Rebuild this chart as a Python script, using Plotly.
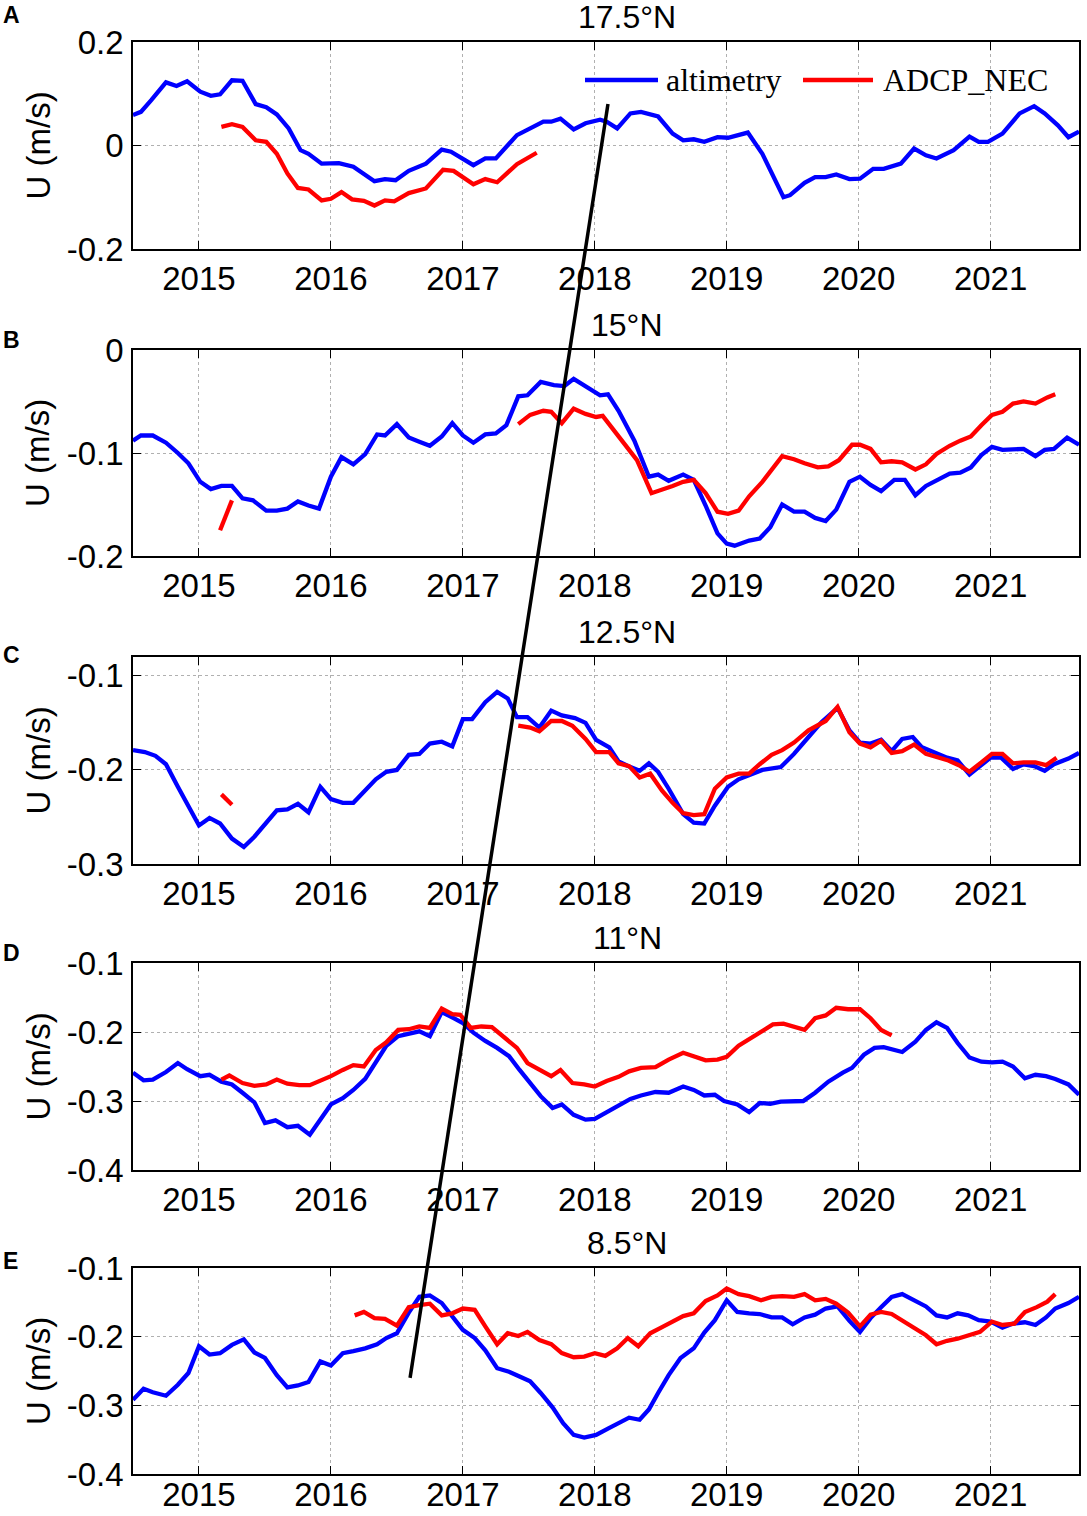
import plotly.graph_objects as go

# ---------------- data (decimal year, U in m/s) ----------------
YEAR_TICKS = [2015, 2016, 2017, 2018, 2019, 2020, 2021]
YEAR_LABELS = ["2015", "2016", "2017", "2018", "2019", "2020", "2021"]
X_RANGE = [2014.5, 2021.67]

A_ALT = [(2014.50, 0.059), (2014.56, 0.065), (2014.64, 0.088), (2014.75, 0.122), (2014.83, 0.115),
         (2014.91, 0.124), (2015.01, 0.104), (2015.09, 0.096), (2015.16, 0.099), (2015.25, 0.126),
         (2015.33, 0.125), (2015.43, 0.080), (2015.51, 0.074), (2015.59, 0.060), (2015.68, 0.033),
         (2015.77, -0.009), (2015.83, -0.016), (2015.93, -0.035), (2016.06, -0.034), (2016.17, -0.041),
         (2016.33, -0.069), (2016.41, -0.065), (2016.49, -0.067), (2016.59, -0.049), (2016.72, -0.035),
         (2016.84, -0.008), (2016.91, -0.012), (2017.08, -0.038), (2017.17, -0.025), (2017.25, -0.025),
         (2017.41, 0.020), (2017.51, 0.034), (2017.61, 0.046), (2017.67, 0.046), (2017.74, 0.052),
         (2017.84, 0.031), (2017.93, 0.043), (2018.04, 0.050), (2018.09, 0.046), (2018.17, 0.033),
         (2018.27, 0.062), (2018.35, 0.065), (2018.48, 0.056), (2018.59, 0.023), (2018.67, 0.010),
         (2018.75, 0.012), (2018.83, 0.007), (2018.93, 0.016), (2019.01, 0.015), (2019.16, 0.025),
         (2019.27, -0.016), (2019.43, -0.100), (2019.48, -0.096), (2019.59, -0.072), (2019.67, -0.061),
         (2019.75, -0.061), (2019.83, -0.056), (2019.93, -0.065), (2020.01, -0.064), (2020.11, -0.045),
         (2020.19, -0.045), (2020.32, -0.035), (2020.42, -0.006), (2020.51, -0.019), (2020.59, -0.025),
         (2020.72, -0.009), (2020.84, 0.017), (2020.91, 0.007), (2020.98, 0.007), (2021.09, 0.023),
         (2021.22, 0.062), (2021.33, 0.076), (2021.41, 0.062), (2021.51, 0.039), (2021.59, 0.016),
         (2021.67, 0.027)]
A_ADCP = [[(2015.17, 0.036), (2015.25, 0.041), (2015.33, 0.036), (2015.43, 0.010), (2015.51, 0.007),
           (2015.59, -0.016), (2015.67, -0.054), (2015.75, -0.082), (2015.83, -0.085), (2015.93, -0.106),
           (2016.00, -0.103), (2016.08, -0.090), (2016.16, -0.104), (2016.25, -0.107), (2016.33, -0.116),
           (2016.41, -0.106), (2016.48, -0.108), (2016.59, -0.092), (2016.72, -0.083), (2016.85, -0.047),
           (2016.93, -0.049), (2017.08, -0.075), (2017.17, -0.065), (2017.26, -0.071), (2017.41, -0.036),
           (2017.49, -0.025), (2017.56, -0.014)]]

B_ALT = [(2014.50, -0.088), (2014.56, -0.083), (2014.65, -0.083), (2014.75, -0.090), (2014.84, -0.100),
         (2014.92, -0.110), (2015.01, -0.128), (2015.09, -0.135), (2015.17, -0.132), (2015.25, -0.132),
         (2015.33, -0.144), (2015.41, -0.146), (2015.51, -0.156), (2015.59, -0.156), (2015.67, -0.154),
         (2015.75, -0.147), (2015.83, -0.151), (2015.91, -0.154), (2016.00, -0.123), (2016.08, -0.104),
         (2016.17, -0.111), (2016.26, -0.101), (2016.35, -0.082), (2016.41, -0.083), (2016.50, -0.072),
         (2016.59, -0.085), (2016.67, -0.089), (2016.75, -0.093), (2016.84, -0.084), (2016.92, -0.071),
         (2017.00, -0.083), (2017.08, -0.090), (2017.17, -0.082), (2017.25, -0.081), (2017.33, -0.073),
         (2017.42, -0.045), (2017.49, -0.044), (2017.59, -0.031), (2017.69, -0.034), (2017.77, -0.035),
         (2017.84, -0.028), (2017.95, -0.037), (2018.04, -0.044), (2018.10, -0.043), (2018.18, -0.059),
         (2018.30, -0.088), (2018.41, -0.123), (2018.48, -0.121), (2018.56, -0.127), (2018.67, -0.121),
         (2018.75, -0.126), (2018.84, -0.151), (2018.93, -0.178), (2019.00, -0.188), (2019.06, -0.190),
         (2019.17, -0.185), (2019.25, -0.183), (2019.33, -0.172), (2019.42, -0.150), (2019.51, -0.157),
         (2019.59, -0.157), (2019.67, -0.163), (2019.75, -0.166), (2019.83, -0.155), (2019.93, -0.128),
         (2020.01, -0.123), (2020.09, -0.131), (2020.17, -0.137), (2020.27, -0.126), (2020.35, -0.126),
         (2020.43, -0.141), (2020.51, -0.132), (2020.62, -0.125), (2020.69, -0.120), (2020.77, -0.119),
         (2020.85, -0.114), (2020.93, -0.102), (2021.01, -0.094), (2021.09, -0.097), (2021.17, -0.097),
         (2021.25, -0.096), (2021.34, -0.103), (2021.41, -0.097), (2021.48, -0.096), (2021.58, -0.085),
         (2021.67, -0.092)]
B_ADCP = [[(2015.16, -0.175), (2015.25, -0.146)],
          [(2017.42, -0.072), (2017.51, -0.063), (2017.61, -0.059), (2017.67, -0.060), (2017.75, -0.071),
           (2017.84, -0.057), (2017.93, -0.062), (2018.01, -0.065), (2018.06, -0.064), (2018.14, -0.077),
           (2018.22, -0.091), (2018.32, -0.107), (2018.43, -0.139), (2018.51, -0.136), (2018.59, -0.132),
           (2018.67, -0.128), (2018.75, -0.126), (2018.84, -0.139), (2018.93, -0.157), (2019.01, -0.159),
           (2019.09, -0.156), (2019.17, -0.142), (2019.27, -0.128), (2019.42, -0.103), (2019.51, -0.106),
           (2019.59, -0.110), (2019.69, -0.114), (2019.77, -0.113), (2019.85, -0.107), (2019.95, -0.092),
           (2020.01, -0.092), (2020.09, -0.096), (2020.17, -0.109), (2020.25, -0.108), (2020.33, -0.109),
           (2020.43, -0.116), (2020.51, -0.111), (2020.59, -0.101), (2020.69, -0.093), (2020.77, -0.088),
           (2020.85, -0.084), (2020.93, -0.073), (2021.01, -0.063), (2021.09, -0.060), (2021.17, -0.052),
           (2021.25, -0.050), (2021.34, -0.052), (2021.43, -0.046), (2021.49, -0.043)]]

C_ALT = [(2014.50, -0.179), (2014.59, -0.181), (2014.67, -0.185), (2014.75, -0.194), (2014.84, -0.218),
         (2014.92, -0.239), (2015.00, -0.259), (2015.08, -0.251), (2015.16, -0.257), (2015.25, -0.273),
         (2015.34, -0.282), (2015.42, -0.271), (2015.51, -0.256), (2015.59, -0.243), (2015.67, -0.242),
         (2015.75, -0.236), (2015.83, -0.245), (2015.92, -0.218), (2016.00, -0.231), (2016.09, -0.235),
         (2016.17, -0.235), (2016.26, -0.222), (2016.34, -0.210), (2016.42, -0.202), (2016.50, -0.200),
         (2016.59, -0.184), (2016.67, -0.183), (2016.75, -0.172), (2016.84, -0.170), (2016.92, -0.175),
         (2017.00, -0.146), (2017.07, -0.146), (2017.17, -0.128), (2017.26, -0.117), (2017.34, -0.124),
         (2017.41, -0.144), (2017.49, -0.144), (2017.58, -0.155), (2017.67, -0.137), (2017.75, -0.142),
         (2017.85, -0.145), (2017.93, -0.150), (2018.01, -0.168), (2018.11, -0.176), (2018.18, -0.191),
         (2018.27, -0.197), (2018.34, -0.201), (2018.41, -0.193), (2018.48, -0.202), (2018.56, -0.220),
         (2018.67, -0.247), (2018.75, -0.256), (2018.83, -0.257), (2018.91, -0.238), (2019.01, -0.218),
         (2019.09, -0.210), (2019.17, -0.206), (2019.27, -0.200), (2019.41, -0.197), (2019.51, -0.183),
         (2019.62, -0.165), (2019.72, -0.149), (2019.84, -0.134), (2019.93, -0.158), (2020.01, -0.171),
         (2020.09, -0.172), (2020.17, -0.168), (2020.25, -0.180), (2020.33, -0.167), (2020.41, -0.165),
         (2020.48, -0.176), (2020.59, -0.182), (2020.67, -0.187), (2020.75, -0.190), (2020.84, -0.205),
         (2020.91, -0.197), (2021.00, -0.187), (2021.08, -0.187), (2021.17, -0.199), (2021.25, -0.194),
         (2021.33, -0.196), (2021.41, -0.201), (2021.48, -0.194), (2021.59, -0.188), (2021.67, -0.182)]
C_ADCP = [[(2015.17, -0.226), (2015.25, -0.237)],
          [(2017.42, -0.153), (2017.51, -0.155), (2017.58, -0.159), (2017.67, -0.148), (2017.75, -0.148),
           (2017.83, -0.153), (2017.93, -0.167), (2018.01, -0.181), (2018.11, -0.181), (2018.18, -0.193),
           (2018.26, -0.196), (2018.34, -0.208), (2018.42, -0.204), (2018.51, -0.222), (2018.59, -0.235),
           (2018.67, -0.246), (2018.75, -0.248), (2018.83, -0.247), (2018.91, -0.220), (2019.00, -0.208),
           (2019.09, -0.204), (2019.17, -0.204), (2019.25, -0.194), (2019.34, -0.184), (2019.42, -0.179),
           (2019.51, -0.171), (2019.62, -0.158), (2019.75, -0.148), (2019.84, -0.133), (2019.93, -0.160),
           (2020.01, -0.172), (2020.09, -0.176), (2020.17, -0.169), (2020.25, -0.182), (2020.33, -0.180),
           (2020.42, -0.173), (2020.51, -0.183), (2020.59, -0.186), (2020.68, -0.190), (2020.76, -0.195),
           (2020.84, -0.202), (2020.93, -0.192), (2021.01, -0.183), (2021.09, -0.183), (2021.17, -0.193),
           (2021.25, -0.192), (2021.34, -0.192), (2021.42, -0.195), (2021.50, -0.187)]]

D_ALT = [(2014.50, -0.259), (2014.58, -0.270), (2014.65, -0.269), (2014.75, -0.258), (2014.84, -0.245),
         (2014.91, -0.254), (2015.01, -0.264), (2015.08, -0.262), (2015.17, -0.272), (2015.25, -0.276),
         (2015.33, -0.288), (2015.42, -0.302), (2015.50, -0.332), (2015.58, -0.328), (2015.67, -0.338),
         (2015.75, -0.336), (2015.84, -0.349), (2015.92, -0.327), (2016.00, -0.305), (2016.09, -0.296),
         (2016.17, -0.284), (2016.26, -0.268), (2016.35, -0.240), (2016.42, -0.220), (2016.51, -0.206),
         (2016.59, -0.203), (2016.67, -0.199), (2016.75, -0.206), (2016.84, -0.171), (2016.93, -0.180),
         (2017.00, -0.187), (2017.08, -0.201), (2017.17, -0.213), (2017.26, -0.223), (2017.35, -0.235),
         (2017.43, -0.255), (2017.51, -0.274), (2017.59, -0.293), (2017.68, -0.310), (2017.75, -0.305),
         (2017.84, -0.320), (2017.93, -0.327), (2018.00, -0.326), (2018.09, -0.316), (2018.18, -0.306),
         (2018.27, -0.297), (2018.35, -0.292), (2018.46, -0.287), (2018.56, -0.288), (2018.67, -0.279),
         (2018.75, -0.284), (2018.83, -0.292), (2018.91, -0.291), (2018.98, -0.300), (2019.08, -0.305),
         (2019.17, -0.316), (2019.25, -0.303), (2019.33, -0.304), (2019.41, -0.301), (2019.48, -0.300),
         (2019.58, -0.300), (2019.67, -0.288), (2019.77, -0.272), (2019.88, -0.259), (2019.95, -0.252),
         (2020.04, -0.233), (2020.12, -0.223), (2020.19, -0.222), (2020.27, -0.226), (2020.33, -0.229),
         (2020.43, -0.214), (2020.51, -0.197), (2020.59, -0.186), (2020.67, -0.194), (2020.75, -0.216),
         (2020.84, -0.237), (2020.93, -0.243), (2021.01, -0.244), (2021.09, -0.243), (2021.17, -0.250),
         (2021.26, -0.267), (2021.34, -0.262), (2021.42, -0.264), (2021.49, -0.268), (2021.59, -0.276),
         (2021.67, -0.291)]
D_ADCP = [[(2015.17, -0.269), (2015.23, -0.263), (2015.33, -0.274), (2015.42, -0.278), (2015.51, -0.276),
           (2015.59, -0.269), (2015.67, -0.275), (2015.76, -0.277), (2015.84, -0.277), (2015.92, -0.271),
           (2016.00, -0.264), (2016.09, -0.255), (2016.17, -0.248), (2016.25, -0.250), (2016.34, -0.226),
           (2016.42, -0.215), (2016.51, -0.197), (2016.59, -0.196), (2016.67, -0.192), (2016.75, -0.194),
           (2016.84, -0.166), (2016.92, -0.174), (2016.98, -0.175), (2017.06, -0.194), (2017.14, -0.192),
           (2017.22, -0.193), (2017.32, -0.209), (2017.41, -0.223), (2017.49, -0.245), (2017.58, -0.254),
           (2017.67, -0.264), (2017.74, -0.255), (2017.83, -0.274), (2017.92, -0.276), (2018.00, -0.279),
           (2018.09, -0.271), (2018.18, -0.265), (2018.26, -0.257), (2018.35, -0.252), (2018.46, -0.251),
           (2018.56, -0.240), (2018.67, -0.230), (2018.75, -0.235), (2018.84, -0.241), (2018.93, -0.240),
           (2019.00, -0.236), (2019.09, -0.220), (2019.18, -0.209), (2019.27, -0.197), (2019.35, -0.189),
           (2019.43, -0.188), (2019.51, -0.192), (2019.59, -0.197), (2019.67, -0.180), (2019.75, -0.176),
           (2019.83, -0.165), (2019.92, -0.167), (2020.01, -0.167), (2020.09, -0.180), (2020.17, -0.197),
           (2020.25, -0.205)]]

E_ALT = [(2014.50, -0.292), (2014.58, -0.276), (2014.65, -0.281), (2014.75, -0.286), (2014.84, -0.270),
         (2014.92, -0.253), (2015.00, -0.214), (2015.08, -0.226), (2015.16, -0.224), (2015.25, -0.212),
         (2015.34, -0.204), (2015.42, -0.223), (2015.50, -0.231), (2015.59, -0.256), (2015.67, -0.274),
         (2015.75, -0.271), (2015.83, -0.266), (2015.92, -0.236), (2016.00, -0.242), (2016.09, -0.224),
         (2016.17, -0.221), (2016.26, -0.217), (2016.35, -0.211), (2016.42, -0.202), (2016.50, -0.195),
         (2016.59, -0.165), (2016.67, -0.142), (2016.75, -0.140), (2016.84, -0.151), (2016.92, -0.171),
         (2017.00, -0.190), (2017.09, -0.202), (2017.17, -0.220), (2017.26, -0.246), (2017.35, -0.251),
         (2017.43, -0.258), (2017.51, -0.265), (2017.59, -0.282), (2017.68, -0.303), (2017.76, -0.326),
         (2017.84, -0.343), (2017.92, -0.347), (2018.01, -0.343), (2018.10, -0.334), (2018.18, -0.326),
         (2018.26, -0.318), (2018.34, -0.321), (2018.41, -0.306), (2018.48, -0.282), (2018.56, -0.256),
         (2018.65, -0.231), (2018.75, -0.217), (2018.83, -0.194), (2018.91, -0.176), (2019.00, -0.147),
         (2019.08, -0.164), (2019.17, -0.166), (2019.25, -0.167), (2019.34, -0.172), (2019.42, -0.172),
         (2019.50, -0.182), (2019.59, -0.172), (2019.67, -0.168), (2019.75, -0.159), (2019.84, -0.156),
         (2019.93, -0.177), (2020.01, -0.193), (2020.09, -0.173), (2020.17, -0.157), (2020.25, -0.142),
         (2020.33, -0.138), (2020.42, -0.147), (2020.51, -0.156), (2020.59, -0.169), (2020.67, -0.172),
         (2020.75, -0.166), (2020.83, -0.169), (2020.91, -0.176), (2021.00, -0.178), (2021.09, -0.187),
         (2021.17, -0.181), (2021.26, -0.179), (2021.34, -0.183), (2021.42, -0.172), (2021.49, -0.159),
         (2021.59, -0.151), (2021.67, -0.142)]
E_ADCP = [[(2016.18, -0.169), (2016.25, -0.164), (2016.33, -0.173), (2016.41, -0.174), (2016.50, -0.184),
           (2016.59, -0.157), (2016.67, -0.154), (2016.75, -0.152), (2016.84, -0.169), (2016.92, -0.166),
           (2017.00, -0.159), (2017.09, -0.161), (2017.17, -0.185), (2017.26, -0.211), (2017.34, -0.195),
           (2017.42, -0.199), (2017.49, -0.193), (2017.58, -0.205), (2017.67, -0.211), (2017.75, -0.224),
           (2017.84, -0.230), (2017.92, -0.229), (2018.00, -0.224), (2018.08, -0.228), (2018.17, -0.217),
           (2018.25, -0.202), (2018.33, -0.214), (2018.42, -0.195), (2018.51, -0.186), (2018.59, -0.178),
           (2018.67, -0.170), (2018.75, -0.166), (2018.84, -0.148), (2018.93, -0.140), (2019.00, -0.130),
           (2019.09, -0.138), (2019.17, -0.141), (2019.26, -0.147), (2019.34, -0.142), (2019.42, -0.141),
           (2019.51, -0.142), (2019.59, -0.138), (2019.67, -0.147), (2019.75, -0.145), (2019.83, -0.152),
           (2019.92, -0.165), (2020.01, -0.185), (2020.09, -0.168), (2020.17, -0.164), (2020.25, -0.167),
           (2020.33, -0.176), (2020.43, -0.188), (2020.51, -0.198), (2020.59, -0.211), (2020.67, -0.206),
           (2020.75, -0.203), (2020.83, -0.198), (2020.92, -0.193), (2021.01, -0.178), (2021.09, -0.183),
           (2021.18, -0.181), (2021.26, -0.164), (2021.35, -0.157), (2021.43, -0.149), (2021.49, -0.138)]]

PANEL_LETTERS = ["A", "B", "C", "D", "E"]
PANEL_TITLES = ["17.5°N", "15°N", "12.5°N", "11°N", "8.5°N"]
Y_RANGES = [[-0.2, 0.2], [-0.2, 0.0], [-0.3, -0.08], [-0.4, -0.1], [-0.4, -0.1]]
Y_TICKS = [[-0.2, 0, 0.2], [-0.2, -0.1, 0], [-0.3, -0.2, -0.1],
           [-0.4, -0.3, -0.2, -0.1], [-0.4, -0.3, -0.2, -0.1]]
Y_TICK_LABELS = [["-0.2", "0", "0.2"], ["-0.2", "-0.1", "0"], ["-0.3", "-0.2", "-0.1"],
                 ["-0.4", "-0.3", "-0.2", "-0.1"], ["-0.4", "-0.3", "-0.2", "-0.1"]]
SERIES_NAMES = ["altimetry", "ADCP_NEC"]
# black propagation line: (panel index, year, U) at both ends
PROP_LINE = [(4, 2016.60, -0.26), (0, 2018.10, 0.08)]

ALT_SETS = [A_ALT, B_ALT, C_ALT, D_ALT, E_ALT]
ADCP_SETS = [A_ADCP, B_ADCP, C_ADCP, D_ADCP, E_ADCP]

# ---------------- layout geometry ----------------
W, H = 1087, 1516
X_DOM = [133 / W, 1079 / W]
PANEL_PX = [(42, 249), (350, 556), (657, 864), (963, 1170), (1268, 1474)]
DOMAINS = [[1 - b / H, 1 - t / H] for t, b in PANEL_PX]
LETTER_PX = [15, 340, 655, 953, 1261]

BLUE = "#0000ff"
RED = "#ff0000"
SANS = "Liberation Sans, Arial, sans-serif"
SERIF = "Liberation Serif, Times New Roman, serif"
TICK_FS = 33


def split_xy(segments):
    xs, ys = [], []
    for k, seg in enumerate(segments):
        if k:
            xs.append(None)
            ys.append(None)
        xs += [p[0] for p in seg]
        ys += [p[1] for p in seg]
    return xs, ys


fig = go.Figure()
layout = dict(
    width=W, height=H, margin=dict(l=0, r=0, t=0, b=0, autoexpand=False),
    paper_bgcolor="white", plot_bgcolor="white", showlegend=False,
    font=dict(family=SANS, size=TICK_FS, color="black"),
)
annotations = []
shapes = []

for i in range(5):
    sfx = "" if i == 0 else str(i + 1)
    xa, ya = "x" + sfx, "y" + sfx
    ax, ay = split_xy([ALT_SETS[i]])
    rx, ry = split_xy(ADCP_SETS[i])
    fig.add_trace(go.Scatter(x=ax, y=ay, mode="lines", name=SERIES_NAMES[0],
                             line=dict(color=BLUE, width=4.3), xaxis=xa, yaxis=ya,
                             connectgaps=False))
    fig.add_trace(go.Scatter(x=rx, y=ry, mode="lines", name=SERIES_NAMES[1],
                             line=dict(color=RED, width=4.3), xaxis=xa, yaxis=ya,
                             connectgaps=False))
    common = dict(
        tickmode="array", ticks="inside", ticklen=8, tickcolor="black", tickwidth=1,
        showline=True, linecolor="black", linewidth=1.5, mirror="ticks",
        showgrid=True, gridcolor="#b0b0b0", griddash="dot", gridwidth=1,
        zeroline=False, automargin=False,
        tickfont=dict(size=TICK_FS, family=SANS, color="black"),
    )
    layout["xaxis" + sfx] = dict(
        domain=X_DOM, anchor=ya, range=X_RANGE,
        tickvals=YEAR_TICKS, ticktext=YEAR_LABELS,
        ticklabelstandoff=(-9 if i == 4 else 0), **common)
    layout["yaxis" + sfx] = dict(
        domain=DOMAINS[i], anchor=xa, range=Y_RANGES[i],
        tickvals=Y_TICKS[i], ticktext=Y_TICK_LABELS[i], ticklabelstandoff=1, **common)
    top = DOMAINS[i][1]
    mid = (DOMAINS[i][0] + DOMAINS[i][1]) / 2
    annotations.append(dict(text=PANEL_TITLES[i], xref="paper", yref="paper",
                            x=627 / W, y=top, xanchor="center", yanchor="bottom",
                            yshift=5, showarrow=False,
                            font=dict(size=32, family=SANS, color="black")))
    annotations.append(dict(text="U (m/s)", xref="paper", yref="paper",
                            x=38 / W, y=mid, xanchor="center", yanchor="middle",
                            textangle=-90, showarrow=False,
                            font=dict(size=33, family=SANS, color="black")))
    annotations.append(dict(text="<b>%s</b>" % PANEL_LETTERS[i], xref="paper", yref="paper",
                            x=1 / W, y=1 - LETTER_PX[i] / H, xanchor="left", yanchor="middle",
                            showarrow=False,
                            font=dict(size=23, family=SANS, color="black")))


def to_paper(panel, val):
    lo, hi = Y_RANGES[panel]
    d0, d1 = DOMAINS[panel]
    return d0 + (val - lo) / (hi - lo) * (d1 - d0)


(p0, x0, v0), (p1, x1, v1) = PROP_LINE
shapes.append(dict(type="line", xref="x", yref="paper",
                   x0=x0, y0=to_paper(p0, v0), x1=x1, y1=to_paper(p1, v1),
                   line=dict(color="black", width=3.5), layer="above"))

# legend (panel A, inside top-right)
leg_y = 1 - 80 / H
for (xa_px, xb_px, tx_px, col, name) in [(585, 658, 664, BLUE, SERIES_NAMES[0]),
                                         (803, 873, 881, RED, SERIES_NAMES[1])]:
    shapes.append(dict(type="line", xref="paper", yref="paper",
                       x0=xa_px / W, x1=xb_px / W, y0=leg_y, y1=leg_y,
                       line=dict(color=col, width=4.5), layer="above"))
    annotations.append(dict(text=name, xref="paper", yref="paper",
                            x=tx_px / W, y=leg_y, xanchor="left", yanchor="middle",
                            showarrow=False,
                            font=dict(size=32, family=SERIF, color="black")))

layout["annotations"] = annotations
layout["shapes"] = shapes
fig.update_layout(**layout)
fig.write_html("out.html", config={"displayModeBar": False},
               post_script="document.body.style.margin='0';document.body.style.overflow='hidden';")
